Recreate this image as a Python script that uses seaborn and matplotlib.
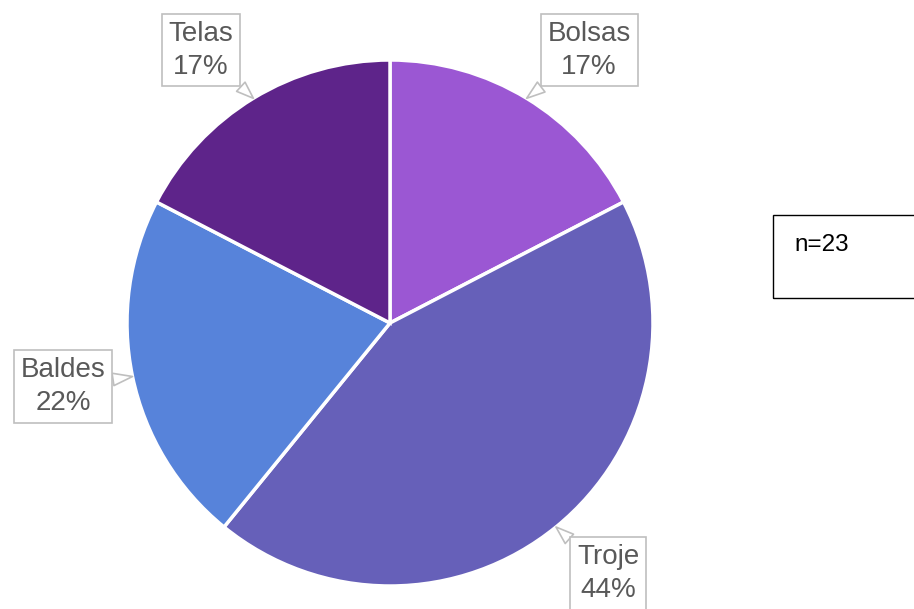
import matplotlib
matplotlib.use("Agg")
import matplotlib.pyplot as plt
import numpy as np
import seaborn as sns

categories = ["Bolsas", "Troje", "Baldes", "Telas"]
counts = [4, 10, 5, 4]
pct_labels = ["17%", "44%", "22%", "17%"]
colors = ["#9B57D3", "#6660B9", "#5783DA", "#5E248A"]
# label box positions, in pie radius units
label_pos = [(0.757, 1.038), (0.829, -0.951), (-1.243, -0.243), (-0.719, 1.038)]

sns.set_theme(style="white")
plt.rcParams["font.family"] = ["Liberation Sans", "DejaVu Sans"]

fig = plt.figure(figsize=(9.14, 6.09), dpi=100)
ax = fig.add_axes([127 / 914, (609 - 586) / 609, 526 / 914, 526 / 609])

wedges, _ = ax.pie(
    counts,
    colors=sns.color_palette(colors),
    startangle=90,
    counterclock=False,
    wedgeprops=dict(edgecolor="white", linewidth=2.5),
)
ax.set_xlim(-1, 1)
ax.set_ylim(-1, 1)
ax.set_aspect("equal")

total = sum(counts)
for w, name, pct, pos in zip(wedges, categories, pct_labels, label_pos):
    mid = np.deg2rad((w.theta1 + w.theta2) / 2)
    tip = (np.cos(mid), np.sin(mid))
    ax.annotate(
        f"{name}\n{pct}",
        xy=tip,
        xytext=pos,
        ha="center",
        va="center",
        fontsize=20,
        color="#595959",
        linespacing=1.35,
        annotation_clip=False,
        bbox=dict(boxstyle="square,pad=0.25", fc="white", ec="#BFBFBF", lw=1.2),
        arrowprops=dict(
            arrowstyle="wedge,tail_width=0.45,shrink_factor=0.5",
            fc="white",
            ec="#BFBFBF",
            lw=1.2,
            shrinkA=0,
            shrinkB=0,
        ),
    )

fig.patches.append(
    plt.Rectangle(
        (773 / 914, (609 - 298) / 609),
        150 / 914,
        83 / 609,
        transform=fig.transFigure,
        fill=False,
        ec="black",
        lw=1,
    )
)
fig.text(794 / 914, 1 - 245 / 609, f"n={total}", fontsize=17.5, color="black", va="center")

fig.savefig("out.png", dpi=100)
